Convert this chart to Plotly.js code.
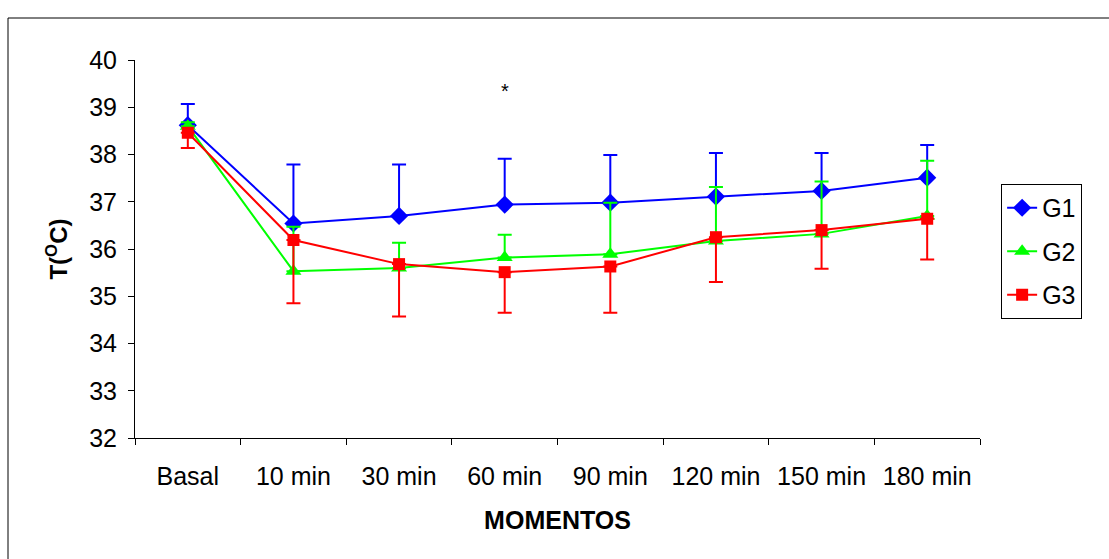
<!DOCTYPE html>
<html><head><meta charset="utf-8">
<script src="https://cdn.plot.ly/plotly-3.0.1.min.js"></script>
<style>html,body{margin:0;padding:0;background:#fff}#c{width:1109px;height:559px}</style>
</head><body><div id="c"></div>
<script>
const categories = ["Basal","10 min","30 min","60 min","90 min","120 min","150 min","180 min"];
const g1 = [38.62,36.54,36.70,36.94,36.98,37.11,37.23,37.51];
const g1ErrPlus = [0.45,1.25,1.09,0.97,1.01,0.92,0.80,0.69];
const g2 = [38.60,35.53,35.60,35.82,35.89,36.17,36.32,36.70];
const g2ErrPlus = [0.08,0.94,0.53,0.48,1.09,1.14,1.11,1.17];
const g3 = [38.46,36.19,35.68,35.51,35.63,36.25,36.40,36.64];
const g3ErrMinus = [0.32,1.34,1.11,0.86,0.98,0.95,0.82,0.86];
const yTicks = [32,33,34,35,36,37,38,39,40];

const font = "Liberation Sans, Arial, sans-serif";
function tr(name, y, color, symbol, size, err){
  return {type:"scatter", mode:"lines+markers", name:name, x:categories, y:y,
    legendgroup:name,
    line:{color:color,width:2}, marker:{color:color,symbol:symbol,size:size},
    error_y:Object.assign({type:"data",symmetric:false,color:color,thickness:2,width:7},err)};
}
const zeros = categories.map(()=>0);
const data = [
  tr("G1", g1, "#0000FF", "diamond", 14, {array:g1ErrPlus, arrayminus:zeros}),
  tr("G2", g2, "#00FF00", "triangle-up", 14, {array:g2ErrPlus, arrayminus:zeros}),
  tr("G3", g3, "#FF0000", "square", 12, {array:zeros, arrayminus:g3ErrMinus})
];
const layout = {
  width:1109, height:559,
  margin:{l:135, r:129, t:60, b:121},
  paper_bgcolor:"#fff", plot_bgcolor:"#fff",
  font:{family:font, size:24, color:"#000"},
  showlegend:true,
  legend:{x:1.025, xanchor:"left", y:0.672, yanchor:"top", bordercolor:"#000", borderwidth:1,
    font:{family:font,size:25,color:"#000"}, tracegroupgap:8, bgcolor:"#fff"},
  xaxis:{type:"category", tickson:"boundaries", ticks:"outside", ticklen:6, tickcolor:"#000",
    showline:true, linecolor:"#000", linewidth:1, showgrid:false, zeroline:false,
    ticklabelstandoff:16,
    tickfont:{family:font,size:25,color:"#000"},
    title:{text:"<b>MOMENTOS</b>", font:{family:font,size:25,color:"#000"}, standoff:22},
    range:[-0.5,7.5]},
  yaxis:{range:[32,40], tickvals:yTicks, ticks:"outside", ticklen:6, tickcolor:"#000",
    showline:true, linecolor:"#000", linewidth:1, showgrid:false, zeroline:false,
    ticklabelstandoff:6,
    tickfont:{family:font,size:25,color:"#000"},
    title:{text:"<b>T(<sup>O</sup>C)</b>", font:{family:font,size:24,color:"#000"}, standoff:14}},
  annotations:[{x:"60 min", y:39.35, xref:"x", yref:"y", text:"*", showarrow:false,
    font:{family:font,size:20,color:"#000"}}],
  shapes:[{type:"rect", xref:"paper", yref:"paper", x0:(8-135)/845, x1:(1120-135)/845,
    y0:(438-570)/378, y1:(438-18)/378, line:{color:"#000",width:1}, fillcolor:"rgba(0,0,0,0)", layer:"below"}]
};
Plotly.newPlot("c", data, layout, {displayModeBar:false, staticPlot:true});
</script></body></html>
